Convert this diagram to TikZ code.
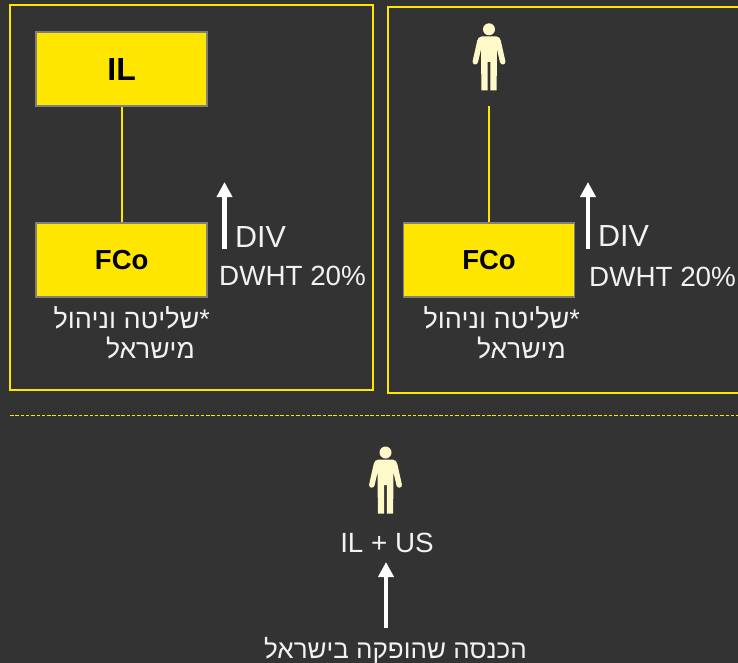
\documentclass[tikz,border=0pt]{standalone}
\usepackage{fontspec}
\setmainfont{Liberation Sans}
\newfontfamily\hebfont[Script=Hebrew]{Liberation Sans}
\TeXXeTstate=1
\usetikzlibrary{arrows.meta}
\definecolor{bgdark}{HTML}{333333}
\definecolor{ylw}{HTML}{FFE600}
\definecolor{boxedge}{HTML}{7F7F7F}
\definecolor{cream}{HTML}{FFF8C9}
\tikzset{
  panel/.style={draw=ylw,line width=1.5pt,fill=none},
  ybox/.style={draw=boxedge,fill=ylw,line width=1.5pt,minimum width=171pt,minimum height=74pt,inner sep=0pt,text=black,font=\bfseries\fontsize{27.5}{30}\selectfont},
  link/.style={draw=ylw,line width=1.6pt},
  uparrow/.style={draw=white,line width=4.6pt,-{Triangle[width=15pt,length=15pt]}},
  lbl/.style={text=white!95!black,inner sep=0pt,font=\fontsize{27.8}{30}\selectfont},
  div/.style={text=white!95!black,inner sep=0pt,font=\fontsize{30.5}{33}\selectfont},
  heb/.style={text=white!95!black,inner sep=0pt,font=\hebfont\fontsize{26.5}{30}\selectfont},
  person/.pic={
    \fill[cream] (0,0) circle (6);
    \fill[cream] (-7.5,7.2) -- (7.5,7.2) .. controls (10,7.4) and (11.3,9) .. (11.8,11.5) -- (16.4,32) .. controls (17,35.5) and (12,36.5) .. (11,33) -- (8,20) -- (7.6,61) -- (1.4,61) -- (1.4,32.5) -- (-1.4,32.5) -- (-1.4,61) -- (-7.6,61) -- (-8,20) -- (-11,33) .. controls (-12,36.5) and (-17,35.5) .. (-16.4,32) -- (-11.8,11.5) .. controls (-11.3,9) and (-10,7.4) .. (-7.5,7.2) -- cycle;
  }
}
\begin{document}
\begin{tikzpicture}[x=1pt,y=-1pt]
\useasboundingbox (0,0) rectangle (738,663);
\fill[bgdark] (0,0) rectangle (738,663);
\draw[panel] (10,5) rectangle (373,390);
\draw[panel] (388,7) rectangle (745,393);
% left panel
\node[ybox] (il) at (121.7,69) {\fontsize{32}{34}\selectfont IL};
\node[ybox] (fcoa) at (121.7,260) {FCo};
\draw[link] (il) -- (fcoa);
\coordinate (aS) at (224.5,249);
\coordinate (aE) at (224.5,182);
\draw[uparrow] (aS) -- (aE);
\node[div,anchor=base west] (diva) at (235,247) {DIV};
\node[lbl,anchor=base west] (dwa) at (219,285) {DWHT 20\%};
\node[heb,anchor=base east,font=\hebfont\fontsize{27}{30}\selectfont] (ha1) at (210,328) {\beginR *שליטה וניהול\endR};
\node[heb,anchor=base east] (ha2) at (195,358) {\beginR מישראל\endR};
% right panel
\pic (pa) at (489,29.3) {person};
\coordinate (lt) at (489,106);
\node[ybox] (fcob) at (489,260) {FCo};
\draw[link] (lt) -- (fcob);
\coordinate (bS) at (588,249);
\coordinate (bE) at (588,182);
\draw[uparrow] (bS) -- (bE);
\node[div,anchor=base west] (divb) at (598,246) {DIV};
\node[lbl,anchor=base west] (dwb) at (589,286) {DWHT 20\%};
\node[heb,anchor=base east,font=\hebfont\fontsize{27}{30}\selectfont] (hb1) at (580,328) {\beginR *שליטה וניהול\endR};
\node[heb,anchor=base east] (hb2) at (566,358) {\beginR מישראל\endR};
% divider
\coordinate (dl) at (10,415);
\coordinate (dr) at (738,415);
\draw[draw=ylw,line width=1pt,dash pattern=on 3.5pt off 1.8pt] (dl) -- (dr);
% bottom
\pic (pc) at (385.5,452.5) {person};
\node[lbl,anchor=base] (ilus) at (387,552) {IL + US};
\coordinate (cS) at (386,628);
\coordinate (cE) at (386,562);
\draw[uparrow] (cS) -- (cE);
\node[heb,anchor=base,font=\hebfont\fontsize{26}{30}\selectfont] (hc) at (395.5,658) {\beginR הכנסה שהופקה בישראל\endR};
\end{tikzpicture}
\end{document}
